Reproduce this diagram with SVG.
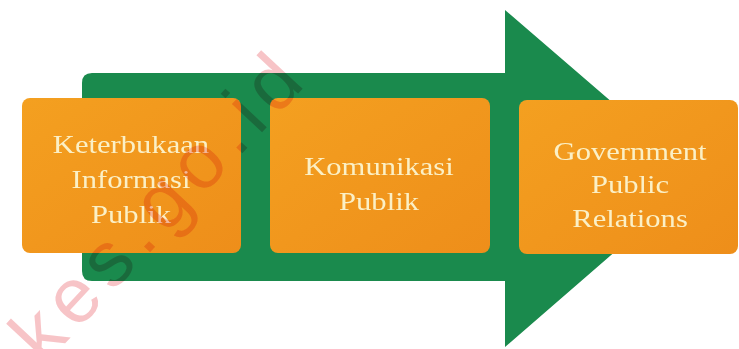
<svg xmlns="http://www.w3.org/2000/svg" width="739" height="349" viewBox="0 0 739 349">
  <defs>
    <linearGradient id="orangeFill" x1="0" y1="0" x2="1" y2="1">
      <stop offset="0" stop-color="#F4A020"/>
      <stop offset="1" stop-color="#EE8E1A"/>
    </linearGradient>
    <style>
      .box { fill: url(#orangeFill); }
      .label { font-family: "Liberation Serif", "Times New Roman", serif; font-size: 25.5px; fill: #FBF0C6; text-anchor: middle; }
      .mark { font-family: "Liberation Sans", Arial, sans-serif; font-size: 78px; fill: #F08A90; mix-blend-mode: multiply; opacity: 0.5; letter-spacing: 9px; }
    </style>
  </defs>

  <rect width="739" height="349" fill="#FFFFFF"/>

  <!-- big green process arrow behind the steps -->
  <g id="connectors">
    <path d="M92,73 H505 V10 L700,178 L505,347 V281 H92 Q82,281 82,271 V83 Q82,73 92,73 Z" fill="#1A8A4D"/>
  </g>

  <g id="step1">
    <rect class="box" x="22" y="98" width="219" height="155" rx="8"/>
    <g transform="translate(131,0) scale(1.2,1)">
      <text class="label" x="0" y="153">Keterbukaan</text>
      <text class="label" x="0" y="188">Informasi</text>
      <text class="label" x="0" y="223">Publik</text>
    </g>
  </g>

  <g id="step2">
    <rect class="box" x="270" y="98" width="220" height="155" rx="8"/>
    <g transform="translate(379,0) scale(1.2,1)">
      <text class="label" x="0" y="175">Komunikasi</text>
      <text class="label" x="0" y="210">Publik</text>
    </g>
  </g>

  <g id="step3">
    <rect class="box" x="519" y="100" width="219" height="154" rx="8"/>
    <g transform="translate(630,0) scale(1.2,1)">
      <text class="label" x="0" y="160">Government</text>
      <text class="label" x="0" y="193">Public</text>
      <text class="label" x="0" y="227">Relations</text>
    </g>
  </g>

  <!-- diagonal site watermark, multiplied over the artwork -->
  <text class="mark" transform="translate(44,366) rotate(-47)" x="0" y="0">kes.go.id</text>
</svg>
